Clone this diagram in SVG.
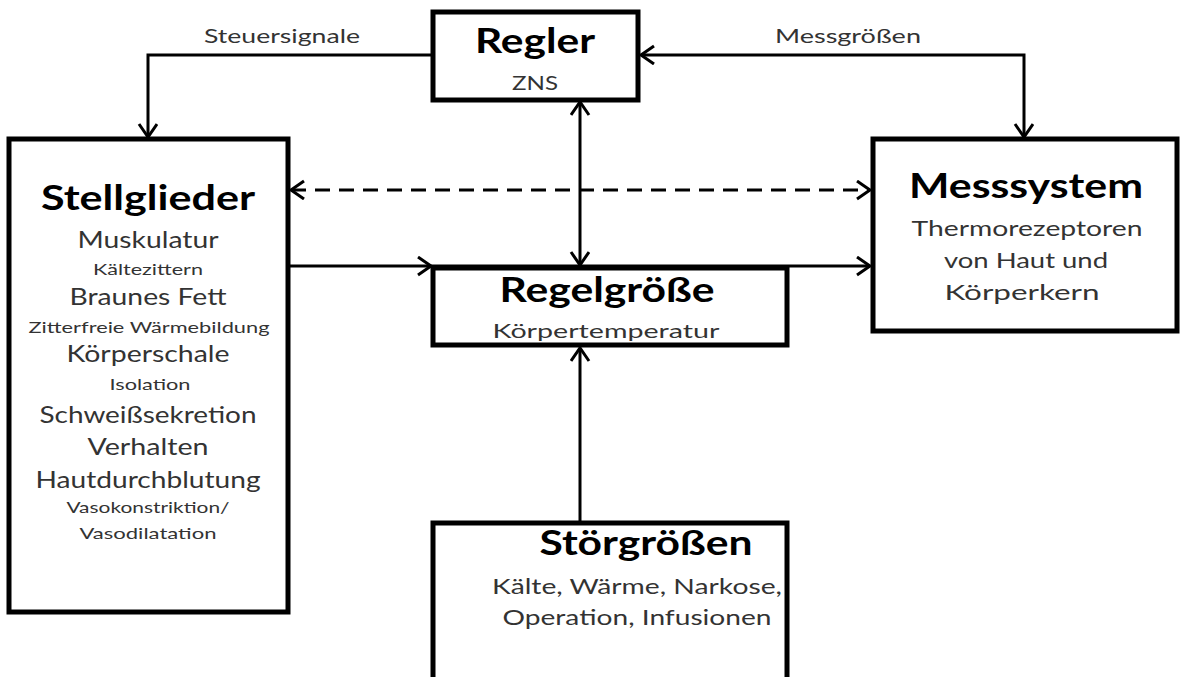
<svg xmlns="http://www.w3.org/2000/svg" width="1180" height="677" viewBox="0 0 1180 677">
<style>
.box{fill:#fff;stroke:#000;stroke-width:5}
.t{font-family:Lato,"Liberation Sans",sans-serif;text-anchor:middle;fill:#333}
.b{font-family:Lato,"Liberation Sans",sans-serif;text-anchor:middle;fill:#000;font-weight:bold}
.c{fill:none;stroke:#000;stroke-width:3}
.d{stroke-dasharray:15 9}
</style>
<defs>
<marker id="ah" markerUnits="userSpaceOnUse" markerWidth="30" markerHeight="30" refX="14" refY="10" orient="auto-start-reverse">
<path d="M1,1 L14,10 L1,19" fill="none" stroke="#000" stroke-width="3"/>
</marker>
</defs>
<rect width="1180" height="677" fill="#fff"/>
<g id="regler">
<rect class="box" x="433" y="12" width="205" height="88"/>
<text class="b" x="535" y="53" font-size="35" textLength="120" lengthAdjust="spacingAndGlyphs">Regler</text>
<text class="t" x="535" y="90" font-size="19" textLength="46" lengthAdjust="spacingAndGlyphs">ZNS</text>
</g>
<g id="stellglieder">
<rect class="box" x="9" y="139" width="279" height="473"/>
<text class="b" x="148" y="210" font-size="35" textLength="214" lengthAdjust="spacingAndGlyphs">Stellglieder</text>
<text class="t" x="148" y="248" font-size="23" textLength="141" lengthAdjust="spacingAndGlyphs">Muskulatur</text>
<text class="t" x="148" y="275" font-size="16" textLength="110" lengthAdjust="spacingAndGlyphs">Kältezittern</text>
<text class="t" x="148" y="305" font-size="23" textLength="157" lengthAdjust="spacingAndGlyphs">Braunes Fett</text>
<text class="t" x="149" y="333" font-size="16" textLength="241" lengthAdjust="spacingAndGlyphs">Zitterfreie Wärmebildung</text>
<text class="t" x="148" y="362" font-size="23" textLength="163" lengthAdjust="spacingAndGlyphs">Körperschale</text>
<text class="t" x="150" y="390" font-size="16" textLength="81" lengthAdjust="spacingAndGlyphs">Isolation</text>
<text class="t" x="148" y="423" font-size="23" textLength="217" lengthAdjust="spacingAndGlyphs">Schweißsekretion</text>
<text class="t" x="148" y="455" font-size="23" textLength="121" lengthAdjust="spacingAndGlyphs">Verhalten</text>
<text class="t" x="148" y="488" font-size="23" textLength="225" lengthAdjust="spacingAndGlyphs">Hautdurchblutung</text>
<text class="t" x="148" y="513" font-size="16" textLength="163" lengthAdjust="spacingAndGlyphs">Vasokonstriktion/</text>
<text class="t" x="148" y="539" font-size="16" textLength="137" lengthAdjust="spacingAndGlyphs">Vasodilatation</text>
</g>
<g id="messsystem">
<rect class="box" x="873" y="139" width="304" height="192"/>
<text class="b" x="1026" y="198" font-size="34" textLength="234" lengthAdjust="spacingAndGlyphs">Messsystem</text>
<text class="t" x="1027" y="236" font-size="21" textLength="231" lengthAdjust="spacingAndGlyphs">Thermorezeptoren</text>
<text class="t" x="1026" y="268" font-size="21" textLength="164" lengthAdjust="spacingAndGlyphs">von Haut und</text>
<text class="t" x="1022" y="300" font-size="21" textLength="155" lengthAdjust="spacingAndGlyphs">Körperkern</text>
</g>
<g id="regelgroesse">
<rect class="box" x="433" y="268" width="354" height="77"/>
<text class="b" x="607" y="302" font-size="34" textLength="215" lengthAdjust="spacingAndGlyphs">Regelgröße</text>
<text class="t" x="606" y="338" font-size="19" textLength="227" lengthAdjust="spacingAndGlyphs">Körpertemperatur</text>
</g>
<g id="stoergroessen">
<rect class="box" x="433" y="523" width="354" height="170"/>
<text class="b" x="646" y="555" font-size="34" textLength="213" lengthAdjust="spacingAndGlyphs">Störgrößen</text>
<text class="t" x="637" y="594" font-size="21" textLength="290" lengthAdjust="spacingAndGlyphs">Kälte, Wärme, Narkose,</text>
<text class="t" x="637" y="625" font-size="21" textLength="269" lengthAdjust="spacingAndGlyphs">Operation, Infusionen</text>
</g>
<g id="connectors">
<path class="c" d="M433,55 L148,55 L148,137" marker-end="url(#ah)"/>
<path class="c" d="M641,55 L1024,55 L1024,137" marker-start="url(#ah)" marker-end="url(#ah)"/>
<path class="c" d="M580,102 L580,265" marker-start="url(#ah)" marker-end="url(#ah)"/>
<path class="c d" d="M291,190 L870,190" marker-start="url(#ah)" marker-end="url(#ah)"/>
<path class="c" d="M288,266 L431,266" marker-end="url(#ah)"/>
<path class="c" d="M431,266 L870,266" marker-end="url(#ah)"/>
<path class="c" d="M580,521 L580,348" marker-end="url(#ah)"/>
<text class="t" x="282" y="43" font-size="19" textLength="156" lengthAdjust="spacingAndGlyphs">Steuersignale</text>
<text class="t" x="848" y="43" font-size="19" textLength="146" lengthAdjust="spacingAndGlyphs">Messgrößen</text>
</g>
</svg>
